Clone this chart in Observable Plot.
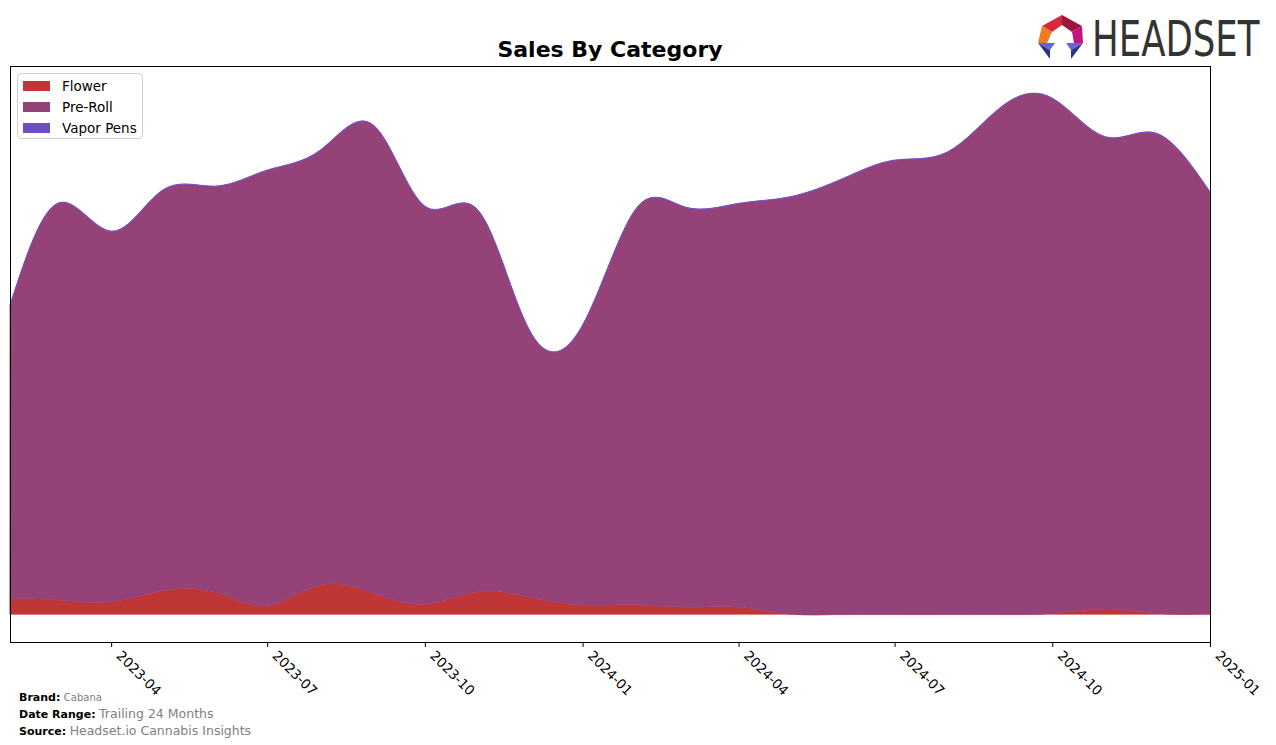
<!DOCTYPE html>
<html><head><meta charset="utf-8">
<script src="https://cdn.jsdelivr.net/npm/d3@7"></script>
<script src="https://cdn.jsdelivr.net/npm/@observablehq/plot@0.6"></script>
<style>
body{margin:0;background:#fff;font-family:"DejaVu Sans",sans-serif;}
#wrap{position:relative;width:1276px;height:745px;overflow:hidden;background:#fff;}
#chart{position:absolute;left:0;top:0;}
#title{position:absolute;left:10px;width:1200px;top:37px;text-align:center;font-weight:bold;font-size:22px;color:#000;}
#legend{position:absolute;left:17px;top:73px;width:126px;height:66px;border:1px solid #d0d0d0;border-radius:4px;background:rgba(255,255,255,0.8);box-sizing:border-box;}
.li{position:absolute;left:5px;height:16px;font-size:13.5px;line-height:16px;color:#000;}
.sw{position:absolute;left:0;top:3px;width:27px;height:10px;}
.lt{position:absolute;left:39px;top:0;white-space:nowrap;}
#footer{position:absolute;left:19px;top:690px;font-size:11px;line-height:16px;color:#000;}
#footer b{font-weight:bold;}
#footer .v{color:#808080;}
#logo{position:absolute;left:1030px;top:8px;}
</style></head><body><div id="wrap">
<div id="chart"></div>
<div id="title">Sales By Category</div>
<div id="legend"></div>
<div id="footer">
<div><b>Brand:</b> <span class="v" style="font-size:10px">Cabana</span></div>
<div><b>Date Range:</b> <span class="v" style="font-size:12.5px">Trailing 24 Months</span></div>
<div><b>Source:</b> <span class="v" style="font-size:12.5px">Headset.io Cannabis Insights</span></div>
</div>
<svg id="logo" width="240" height="60" viewBox="1030 8 240 60">
  <polygon points="1062,15 1042,26 1052,32 1062,25" fill="#d42a3a"/>
  <polygon points="1062,15 1082,26 1072,32 1062,25" fill="#9c1740"/>
  <polygon points="1042,26 1038,43 1047,43 1052,32" fill="#f07c22"/>
  <polygon points="1082,26 1083,43 1074,43 1072,32" fill="#c0167c"/>
  <polygon points="1038,43 1055,43 1050,50" fill="#6a62d8"/>
  <polygon points="1038,43 1050,50 1050,59" fill="#2c3488"/>
  <polygon points="1083,43 1066,43 1071,50" fill="#6a62d8"/>
  <polygon points="1083,43 1071,50 1071,59" fill="#2c3488"/>
  <g transform="translate(1092,56) scale(0.725,1)">
    <text x="0" y="0" font-family="DejaVu Sans" font-size="49" fill="#333">HEADSET</text>
  </g>
</svg>
</div>
<script>
const months = ["2023-02","2023-03","2023-04","2023-05","2023-06","2023-07","2023-08","2023-09","2023-10","2023-11","2023-12","2024-01",
                "2024-02","2024-03","2024-04","2024-05","2024-06","2024-07","2024-08","2024-09","2024-10","2024-11","2024-12","2025-01"];
const categories = ["Flower","Pre-Roll","Vapor Pens"];
const colors = ["#c03535","#954279","#6c4dc2"];
const flower = [16.0,14.3,12.6,23.6,22.0,8.6,29.3,21.0,10.3,22.6,17.0,9.3,9.5,7.0,7.0,0.3,0,0,0,0,1.0,5.3,1.0,0.5];
const preRoll = [292.9,396.6,370.3,400.3,405.9,435.3,434.6,467.9,397.6,381.3,266.9,279.6,395.4,399.9,403.6,416.9,435.6,453.9,462.2,506.9,514.9,471.9,479.6,421.7];
const vaporPens = [0.4,0.4,0.4,0.4,0.4,0.4,0.4,0.4,0.4,0.4,0.4,0.4,0.4,0.4,0.4,0.4,0.4,0.4,0.4,0.4,0.4,0.4,0.4,0.4];
const tickLabels = ["2023-04","2023-07","2023-10","2024-01","2024-04","2024-07","2024-10","2025-01"];

const parse = d3.utcParse("%Y-%m");
const series = [flower, preRoll, vaporPens];
const rows = [];
categories.forEach((c, i) => months.forEach((m, j) => rows.push({date: parse(m), category: c, value: series[i][j]})));
const ticks = tickLabels.map(parse);

const chart = Plot.plot({
  width: 1276, height: 745,
  marginLeft: 10, marginRight: 66, marginTop: 66, marginBottom: 103,
  style: {fontFamily: "DejaVu Sans", fontSize: "13.5px", background: "transparent", color: "#000"},
  x: {type: "utc", domain: [parse(months[0]), parse(months[months.length - 1])]},
  y: {domain: [-27.7, 548.3], axis: null},
  color: {domain: categories, range: colors},
  marks: [
    Plot.areaY(rows, Plot.stackY({x: "date", y: "value", z: "category", fill: "category", stroke: "category", strokeWidth: 0.6, order: categories, curve: "natural"})),
    Plot.frame({stroke: "#000", strokeWidth: 1}),
    Plot.axisX({ticks, tickSize: 5, tickFormat: () => "", stroke: "#000", strokeWidth: 1}),
    Plot.axisX({ticks, tickFormat: d3.utcFormat("%Y-%m"), tickRotate: 45, tickSize: 0, tickPadding: 8, textAnchor: "start", dx: 7, dy: 3, fill: "#000", fontSize: 13.5})
  ]
});
document.getElementById("chart").appendChild(chart);

const lg = document.getElementById("legend");
categories.forEach((c, i) => {
  const d = document.createElement("div");
  d.className = "li";
  d.style.top = (4 + i * 21) + "px";
  d.innerHTML = `<span class="sw" style="background:${colors[i]}"></span><span class="lt">${c}</span>`;
  lg.appendChild(d);
});
</script>
</body></html>
